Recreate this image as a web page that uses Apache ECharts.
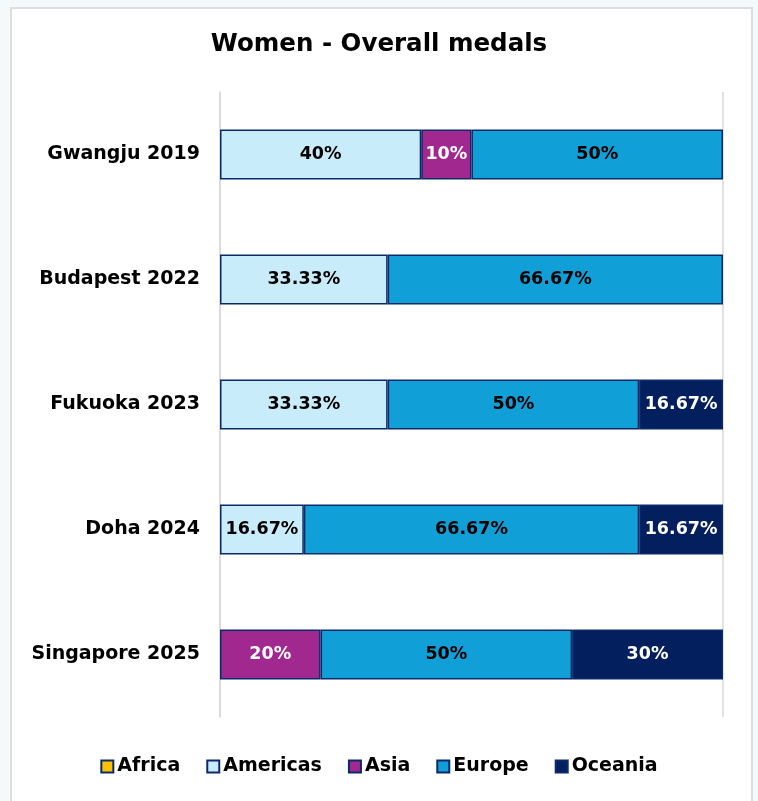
<!DOCTYPE html>
<html>
<head>
<meta charset="utf-8">
<script src="https://cdn.jsdelivr.net/npm/echarts@6/dist/echarts.min.js"></script>
<style>
  html, body { margin: 0; padding: 0; background: #f4f9fc; }
  #frame { position: absolute; left: 10px; top: 7px; width: 743px; height: 800px; background: #fff; border: 2px solid #dedede; box-sizing: border-box; }
  #main { position: absolute; left: 0; top: 0; width: 758px; height: 801px; }
</style>
</head>
<body>
<div id="frame"></div>
<div id="main"></div>
<script>
// categories (top to bottom)
var events = ['Gwangju 2019', 'Budapest 2022', 'Fukuoka 2023', 'Doha 2024', 'Singapore 2025'];
// share of medals, %
var africa   = [0, 0, 0, 0, 0];
var americas = [40, 33.33, 33.33, 16.67, 0];
var asia     = [10, 0, 0, 0, 20];
var europe   = [50, 66.67, 50, 66.67, 50];
var oceania  = [0, 0, 16.67, 16.67, 30];

var fontName = '"DejaVu Sans", sans-serif';

function mkSeries(name, vals, color, textColor) {
    return {
        name: name,
        type: 'bar',
        stack: 'total',
        barWidth: '40%',
        data: vals.map(function (v) { return v === 0 ? null : v; }),
        itemStyle: { color: color, borderColor: '#0b2a6a', borderWidth: 1.5 },
        label: {
            show: true,
            position: 'inside',
            color: textColor,
            fontFamily: fontName,
            fontWeight: 'bold',
            fontSize: 17.5,
            formatter: function (p) { return p.value + '%'; }
        }
    };
}

var chart = echarts.init(document.getElementById('main'));
chart.setOption({
    backgroundColor: 'transparent',
    title: {
        text: 'Women - Overall medals',
        left: 'center',
        top: 27,
        textStyle: { fontFamily: fontName, fontWeight: 'bold', fontSize: 24.5, color: '#000' }
    },
    legend: {
        bottom: 20,
        left: 'center',
        icon: 'rect',
        itemWidth: 12,
        itemHeight: 12,
        itemGap: 26,
        textStyle: { fontFamily: fontName, fontWeight: 'bold', fontSize: 19, color: '#000', padding: [0, 0, 0, -1] },
        data: ['Africa', 'Americas', 'Asia', 'Europe', 'Oceania']
    },
    grid: { left: 220, right: 35, top: 92, bottom: 84 },
    xAxis: {
        type: 'value',
        min: 0,
        max: 100,
        interval: 100,
        axisLabel: { show: false },
        axisLine: { show: false },
        axisTick: { show: false },
        splitLine: { show: true, lineStyle: { color: '#d9d9d9', width: 1.5 } }
    },
    yAxis: {
        type: 'category',
        inverse: true,
        data: events,
        axisLine: { show: true, lineStyle: { color: '#d9d9d9', width: 1.5 } },
        axisTick: { show: false },
        axisLabel: { fontFamily: fontName, fontWeight: 'bold', fontSize: 19, color: '#000', margin: 20 }
    },
    series: [
        mkSeries('Africa', africa, '#ffc000', '#000'),
        mkSeries('Americas', americas, '#c9ecfa', '#000'),
        mkSeries('Asia', asia, '#a0288f', '#fff'),
        mkSeries('Europe', europe, '#109fd6', '#000'),
        mkSeries('Oceania', oceania, '#031f5e', '#fff')
    ]
});
</script>
</body>
</html>
